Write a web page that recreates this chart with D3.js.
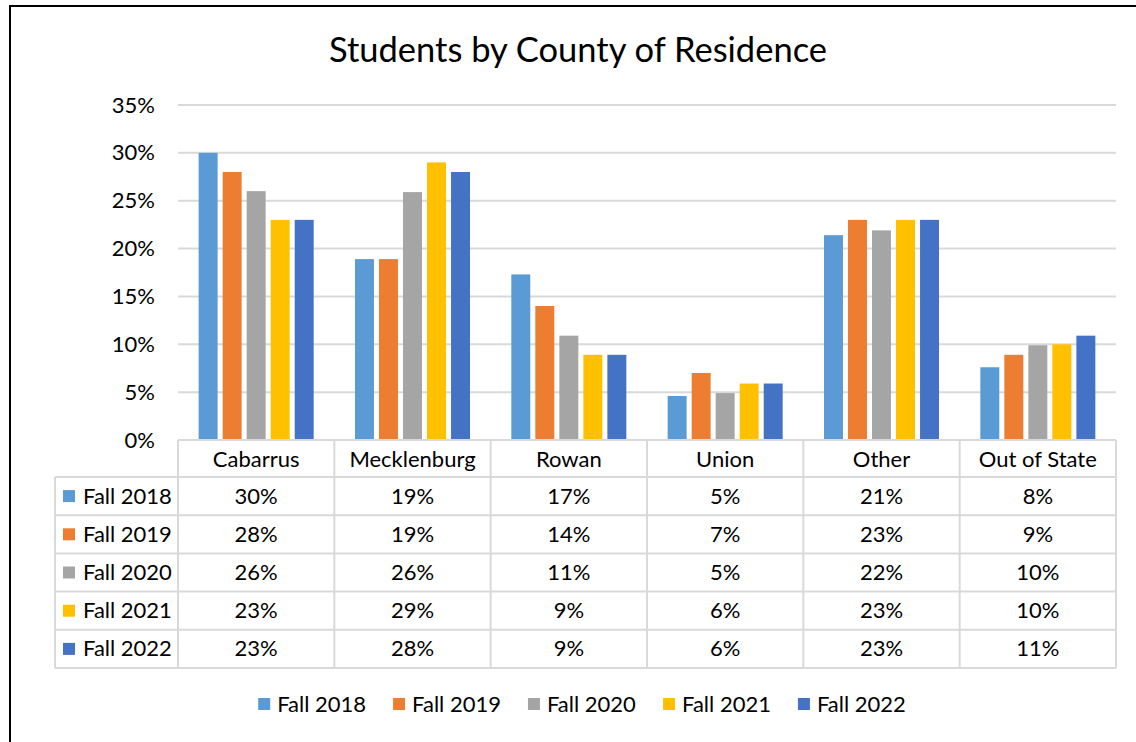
<!DOCTYPE html>
<html>
<head>
<meta charset="utf-8">
<script src="https://cdn.jsdelivr.net/npm/d3@7"></script>
<style>
  body { margin: 0; background: #fff; }
  svg { display: block; font-family: Lato, "Open Sans", sans-serif; }
</style>
</head>
<body>
<svg id="chart" width="1136" height="742"></svg>
<script>
// --- données ---
const categories = ['Cabarrus', 'Mecklenburg', 'Rowan', 'Union', 'Other', 'Out of State'];
const seriesNames = ['Fall 2018', 'Fall 2019', 'Fall 2020', 'Fall 2021', 'Fall 2022'];
const fall2018 = [30, 18.9, 17.3, 4.6, 21.4, 7.6];
const fall2019 = [28, 18.9, 14, 7, 23, 8.9];
const fall2020 = [26, 25.9, 10.9, 4.9, 21.9, 9.9];
const fall2021 = [23, 29, 8.9, 5.9, 23, 10];
const fall2022 = [23, 28, 8.9, 5.9, 23, 10.9];
const yTicks = [0, 5, 10, 15, 20, 25, 30, 35];
const colors = ['#5B9BD5', '#ED7D31', '#A5A5A5', '#FFC000', '#4472C4'];

const seriesValues = [fall2018, fall2019, fall2020, fall2021, fall2022];

const svg = d3.select('#chart');
const fontSize = 22;
const gridColor = '#d9d9d9';

// cadre du graphique (coupé à droite et en bas)
svg.append('rect')
    .attr('x', 10).attr('y', 6)
    .attr('width', 1200).attr('height', 800)
    .attr('fill', 'none')
    .attr('stroke', '#000')
    .attr('stroke-width', 2);

// titre
svg.append('text')
    .attr('x', 578).attr('y', 62)
    .attr('text-anchor', 'middle')
    .attr('font-size', 34.5)
    .attr('fill', '#000')
    .text('Students by County of Residence');

// échelles
const plotLeft = 178, plotRight = 1116;
const y = d3.scaleLinear().domain([0, 35]).range([440, 105]);
const x0 = d3.scaleBand().domain(categories).range([plotLeft, plotRight]);
const x1 = d3.scaleBand().domain(seriesNames).range([0, x0.bandwidth()])
    .paddingInner(0.21).paddingOuter(0.86);

// grille horizontale
svg.append('g')
    .selectAll('line')
    .data(yTicks)
    .enter()
    .append('line')
    .attr('x1', plotLeft).attr('x2', plotRight)
    .attr('y1', d => y(d)).attr('y2', d => y(d))
    .attr('stroke', gridColor)
    .attr('stroke-width', 2);

// étiquettes de l'axe Y
svg.append('g')
    .selectAll('text')
    .data(yTicks)
    .enter()
    .append('text')
    .attr('x', 155)
    .attr('y', d => y(d) + 7.5)
    .attr('text-anchor', 'end')
    .attr('font-size', fontSize)
    .text(d => d + '%');

// barres
const groups = svg.append('g')
    .selectAll('g')
    .data(categories)
    .enter()
    .append('g')
    .attr('transform', d => `translate(${x0(d)},0)`);

groups.selectAll('rect')
    .data((c, ci) => seriesNames.map((s, si) => ({ s, si, v: seriesValues[si][ci] })))
    .enter()
    .append('rect')
    .attr('x', d => x1(d.s))
    .attr('width', x1.bandwidth())
    .attr('y', d => y(d.v))
    .attr('height', d => y(0) - y(d.v))
    .attr('fill', d => colors[d.si]);

// --- tableau de données ---
const tableTop = 440, headerBottom = 477, rowH = 38.2, tableLeft = 55;
const tableBottom = headerBottom + rowH * seriesNames.length;
const table = svg.append('g');

// lignes horizontales
table.append('line')
    .attr('x1', plotLeft).attr('x2', plotRight)
    .attr('y1', tableTop).attr('y2', tableTop)
    .attr('stroke', gridColor).attr('stroke-width', 2);

table.selectAll('line.h')
    .data(d3.range(seriesNames.length + 1))
    .enter()
    .append('line')
    .attr('class', 'h')
    .attr('x1', tableLeft).attr('x2', plotRight)
    .attr('y1', i => headerBottom + i * rowH)
    .attr('y2', i => headerBottom + i * rowH)
    .attr('stroke', gridColor).attr('stroke-width', 2);

// lignes verticales
const bounds = categories.map(c => x0(c)).concat([plotRight]);
table.selectAll('line.v')
    .data(bounds)
    .enter()
    .append('line')
    .attr('class', 'v')
    .attr('x1', d => d).attr('x2', d => d)
    .attr('y1', tableTop).attr('y2', tableBottom)
    .attr('stroke', gridColor).attr('stroke-width', 2);

table.append('line')
    .attr('x1', tableLeft).attr('x2', tableLeft)
    .attr('y1', headerBottom).attr('y2', tableBottom)
    .attr('stroke', gridColor).attr('stroke-width', 2);

// en-têtes des catégories
table.selectAll('text.cat')
    .data(categories)
    .enter()
    .append('text')
    .attr('class', 'cat')
    .attr('x', d => x0(d) + x0.bandwidth() / 2)
    .attr('y', (tableTop + headerBottom) / 2 + 8)
    .attr('text-anchor', 'middle')
    .attr('font-size', fontSize)
    .text(d => d);

// lignes de séries
seriesNames.forEach((s, si) => {
    const cy = headerBottom + rowH * si + rowH / 2;
    table.append('rect')
        .attr('x', 63).attr('y', cy - 6)
        .attr('width', 12).attr('height', 12)
        .attr('fill', colors[si]);
    table.append('text')
        .attr('x', 83).attr('y', cy + 7.5)
        .attr('font-size', fontSize)
        .text(s);
    table.selectAll(null)
        .data(seriesValues[si])
        .enter()
        .append('text')
        .attr('x', (d, ci) => x0(categories[ci]) + x0.bandwidth() / 2)
        .attr('y', cy + 7.5)
        .attr('text-anchor', 'middle')
        .attr('font-size', fontSize)
        .text(d => Math.round(d) + '%');
});

// --- légende ---
const legend = svg.append('g');
const items = legend.selectAll('g')
    .data(seriesNames)
    .enter()
    .append('g');

items.append('rect')
    .attr('width', 12).attr('height', 12)
    .attr('y', -6)
    .attr('fill', (d, i) => colors[i]);

items.append('text')
    .attr('x', 19)
    .attr('y', 7.5)
    .attr('font-size', fontSize)
    .text(d => d);

let offset = 0;
const positions = [];
items.each(function () {
    positions.push(offset);
    offset += this.getBBox().width + 27;
});
const totalW = offset - 27;
const legendStart = 582 - totalW / 2;
items.attr('transform', (d, i) => `translate(${legendStart + positions[i]},704)`);
</script>
</body>
</html>
